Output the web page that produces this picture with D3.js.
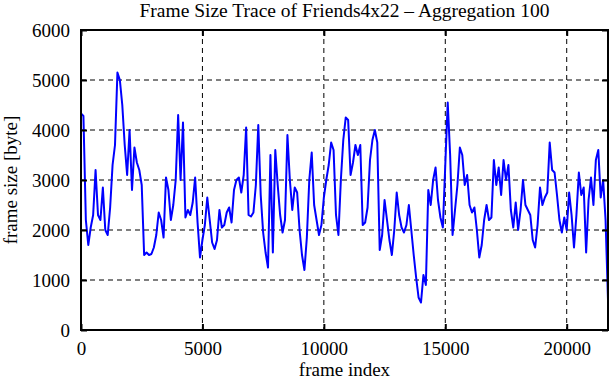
<!DOCTYPE html>
<html><head><meta charset="utf-8">
<script src="https://cdn.jsdelivr.net/npm/d3@7"></script>
<style>body{margin:0;background:#fff}svg{display:block}text{font-family:"Liberation Serif","Times New Roman",serif;fill:#000}</style>
</head><body><svg id="c" width="611" height="380"></svg>
<script>
const title = "Frame Size Trace of Friends4x22 \u2013 Aggregation 100";
const xLabel = "frame index";
const yLabel = "frame size [byte]";
const aggregation = 100;
const xTicks = [0, 5000, 10000, 15000, 20000];
const yTicks = [0, 1000, 2000, 3000, 4000, 5000, 6000];
const xMax = 21700;
// frame size per aggregated block of 100 frames
const frameSize = [
4330,4280,2200,1700,2050,2300,3200,2300,2200,2850,
2000,1900,2450,3300,3700,5150,5000,4500,3700,3100,
4000,2800,3650,3350,3200,2900,1500,1550,1500,1520,
1650,1900,2350,2200,1850,3050,2800,2200,2500,3000,
4300,3000,4150,2250,2400,2300,2550,3050,2150,1450,
1800,2100,2650,2200,1750,1620,1800,2400,2050,2100,
2350,2450,2150,2800,3000,3050,2750,3100,4050,2300,
2270,2350,2900,4100,2700,1950,1550,1250,3500,1550,
3600,2900,2300,1950,2200,3900,3000,2400,2850,2750,
2000,1500,1200,1850,3000,3550,2500,2200,1900,2100,
2650,3000,3300,3750,3600,2300,1900,3000,3800,4250,
4200,3100,3350,3700,3500,3700,2100,2150,2450,3400,
3800,4000,3750,1600,1900,2600,2200,1800,1500,2000,
2750,2300,2050,1950,2100,2500,2000,1500,1050,650,
550,1100,900,2800,2500,3000,3250,2600,2250,2050,
3300,4550,3500,1900,2400,2900,3650,3500,2900,3100,
2500,2350,2450,2000,1450,1700,2200,2500,2200,2250,
3400,2900,3250,2700,3400,3000,3300,2400,2050,2550,
2000,2400,3000,2500,2400,2300,1800,1650,2100,2850,
2500,2650,2750,3750,3200,3150,2700,2200,1950,2250,
2000,2750,2300,1650,2300,3150,2700,2850,1550,2600,
3050,2500,3400,3600,2650,3000,2200,600
];

const svg = d3.select("#c");
const m = {l:81, r:608, t:30, b:330};
const x = d3.scaleLinear().domain([0, xMax]).range([m.l, m.r]);
const y = d3.scaleLinear().domain([0, 6000]).range([m.b, m.t]);

// grid
const g = svg.append("g");
g.selectAll("line.gx").data(xTicks.filter(d => d > 0 && d < xMax)).join("line")
  .attr("x1", d => x(d)).attr("x2", d => x(d)).attr("y1", m.t).attr("y2", m.b)
  .attr("stroke", "#000").attr("stroke-width", 1).attr("stroke-dasharray", "5,4");
g.selectAll("line.gy").data(yTicks.filter(d => d > 0 && d < 6000)).join("line")
  .attr("x1", m.l).attr("x2", m.r).attr("y1", d => y(d)).attr("y2", d => y(d))
  .attr("stroke", "#000").attr("stroke-width", 1).attr("stroke-dasharray", "5,4");

// data line
const line = d3.line().x((d, i) => x(i * aggregation)).y(d => y(d));
svg.append("path").datum(frameSize).attr("d", line)
  .attr("fill", "none").attr("stroke", "#0000ff").attr("stroke-width", 2).attr("stroke-linejoin", "round");

// axes with inward ticks
const fs = "19px";
const ax = (gen, tr) => {
  const a = svg.append("g").attr("transform", tr).call(gen);
  a.select(".domain").remove();
  a.selectAll(".tick line").attr("stroke", "#000").attr("stroke-width", 2);
  a.selectAll("text").style("font-size", fs).style("font-family", '"Liberation Serif",serif');
  return a;
};
ax(d3.axisBottom(x).tickValues(xTicks).tickSize(-6).tickPadding(12).tickFormat(d3.format("d")), `translate(0,${m.b})`);
ax(d3.axisTop(x).tickValues(xTicks).tickSize(-6).tickFormat(""), `translate(0,${m.t})`);
ax(d3.axisLeft(y).tickValues(yTicks).tickSize(-6).tickPadding(11).tickFormat(d3.format("d")), `translate(${m.l},0)`);
ax(d3.axisRight(y).tickValues(yTicks).tickSize(-6).tickFormat(""), `translate(${m.r},0)`);

// frame
svg.append("rect").attr("x", m.l).attr("y", m.t).attr("width", m.r - m.l).attr("height", m.b - m.t)
  .attr("fill", "none").attr("stroke", "#000").attr("stroke-width", 2);

svg.append("text").attr("x", (m.l + m.r) / 2).attr("y", 17).attr("text-anchor", "middle")
  .style("font-size", "19.5px").text(title);
svg.append("text").attr("x", (m.l + m.r) / 2).attr("y", 376).attr("text-anchor", "middle")
  .style("font-size", "19px").text(xLabel);
svg.append("text").attr("transform", `translate(17,${(m.t + m.b) / 2}) rotate(-90)`).attr("text-anchor", "middle")
  .style("font-size", "19px").text(yLabel);
</script></body></html>
